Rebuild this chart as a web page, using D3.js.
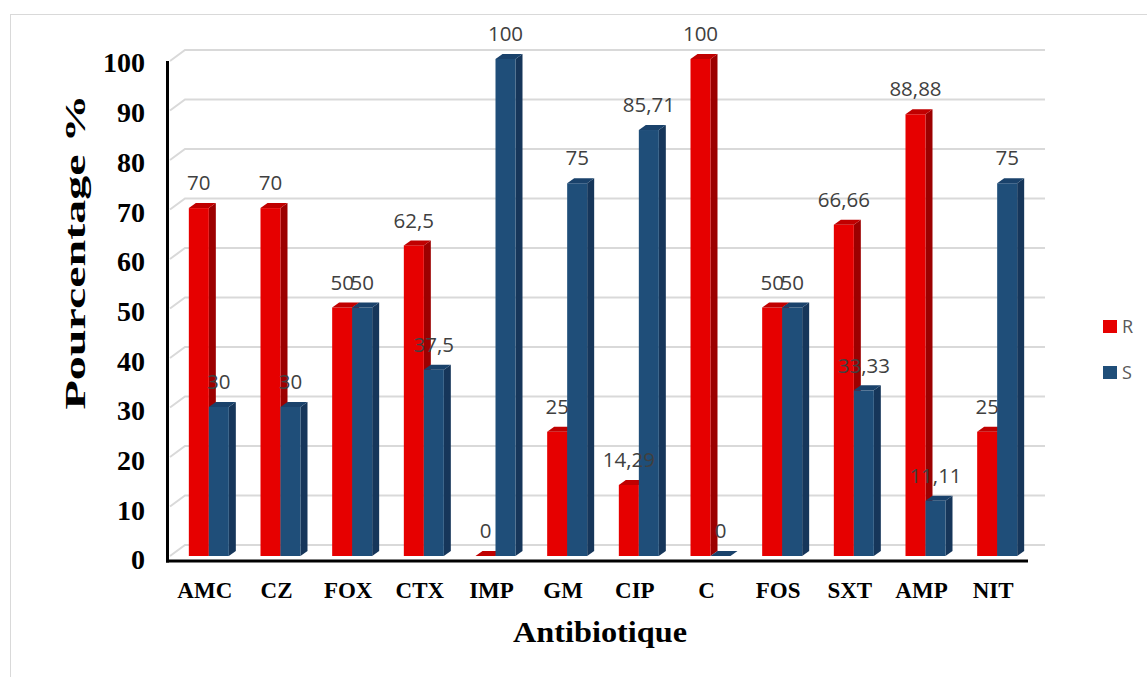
<!DOCTYPE html>
<html>
<head>
<meta charset="utf-8">
<script src="https://cdn.jsdelivr.net/npm/d3@7"></script>
<style>
  html, body { margin: 0; padding: 0; background: #fff; }
  svg { display: block; }
</style>
</head>
<body>
<svg id="chart" width="1147" height="677"></svg>
<script>
// Antibiotic resistance profile: resistant (R) vs sensitive (S) percentages
const categories = ["AMC", "CZ", "FOX", "CTX", "IMP", "GM", "CIP", "C", "FOS", "SXT", "AMP", "NIT"];
const resistant = [70, 70, 50, 62.5, 0, 25, 14.29, 100, 50, 66.66, 88.88, 25];
const sensitive = [30, 30, 50, 37.5, 100, 75, 85.71, 0, 50, 33.33, 11.11, 75];
const seriesNames = ["R", "S"];
const yTicks = [0, 10, 20, 30, 40, 50, 60, 70, 80, 90, 100];

const svg = d3.select("#chart");

// outer frame
svg.append("rect")
  .attr("x", 10.5).attr("y", 14.5)
  .attr("width", 1160).attr("height", 700)
  .attr("fill", "#fff").attr("stroke", "#d9d9d9").attr("stroke-width", 1);

const baseY = 556;
const y = d3.scaleLinear().domain([0, 100]).range([baseY, 59]);
const wallY = d3.scaleLinear().domain([0, 100]).range([545, 50]);
const x = d3.scaleBand().domain(categories).range([173, 1033]).padding(0);
const barW = 20;
const depthX = 7, depthY = -5;

// back wall gridlines with perspective floor edge
const grid = svg.append("g");
yTicks.forEach(t => {
  const yb = wallY(t);
  grid.append("path")
    .attr("d", `M170,${yb + 11}L185,${yb}L1045,${yb}`)
    .attr("fill", "none").attr("stroke", "#d9d9d9").attr("stroke-width", 2);
});

const series = [
  { name: "R", values: resistant, front: "#e60000", side: "#9c0000", top: "#c00000", offset: -barW },
  { name: "S", values: sensitive, front: "#1f4e79", side: "#16365a", top: "#1a426b", offset: 0 }
];

const bars = svg.append("g");
categories.forEach((c, i) => {
  const cx = x(c) + x.bandwidth() / 2;
  series.forEach(s => {
    const v = s.values[i];
    const x0 = cx + s.offset, x1 = x0 + barW;
    const yt = y(v), yb = y(0);
    const g = bars.append("g");
    // side face
    g.append("path")
      .attr("d", `M${x1},${yt}L${x1 + depthX},${yt + depthY}L${x1 + depthX},${yb + depthY}L${x1},${yb}Z`)
      .attr("fill", s.side);
    // front face
    g.append("rect")
      .attr("x", x0).attr("y", yt)
      .attr("width", barW).attr("height", Math.max(0, yb - yt))
      .attr("fill", s.front);
    // top face
    g.append("path")
      .attr("d", `M${x0},${yt}L${x0 + depthX},${yt + depthY}L${x1 + depthX},${yt + depthY}L${x1},${yt}Z`)
      .attr("fill", s.top);
  });
});

// value labels
const fmt = v => String(v).replace(".", ",");
const labels = svg.append("g")
  .attr("font-family", "'Open Sans', 'Noto Sans', sans-serif")
  .attr("font-size", 20.5)
  .attr("fill", "#404040")
  .attr("text-anchor", "middle");
categories.forEach((c, i) => {
  const cx = x(c) + x.bandwidth() / 2;
  series.forEach(s => {
    const v = s.values[i];
    labels.append("text")
      .attr("x", cx + s.offset + barW / 2)
      .attr("y", y(v) - 25)
      .attr("dy", "0.35em")
      .text(fmt(v));
  });
});

// axes lines
svg.append("line")
  .attr("x1", 167.5).attr("x2", 167.5).attr("y1", 61).attr("y2", 562.5)
  .attr("stroke", "#000").attr("stroke-width", 3);
svg.append("line")
  .attr("x1", 166).attr("x2", 1028).attr("y1", 561).attr("y2", 561)
  .attr("stroke", "#000").attr("stroke-width", 3);

// y tick labels
const yAxis = d3.axisLeft(y).tickValues(yTicks).tickSize(0).tickPadding(0);
const yG = svg.append("g").attr("transform", "translate(145,4)").call(yAxis);
yG.select(".domain").remove();
yG.selectAll("text")
  .attr("font-family", "'Liberation Serif', 'Times New Roman', serif")
  .attr("font-weight", "bold")
  .attr("font-size", 28)
  .attr("fill", "#000");

// x category labels
const xAxis = d3.axisBottom(x).tickSize(0).tickPadding(0);
const xG = svg.append("g").attr("transform", "translate(-4,582)").call(xAxis);
xG.select(".domain").remove();
xG.selectAll("text")
  .attr("font-family", "'Liberation Serif', 'Times New Roman', serif")
  .attr("font-weight", "bold")
  .attr("font-size", 23)
  .attr("fill", "#000");

// axis titles
svg.append("text")
  .attr("x", 600).attr("y", 642)
  .attr("text-anchor", "middle")
  .attr("font-family", "'Liberation Serif', 'Times New Roman', serif")
  .attr("font-weight", "bold")
  .attr("font-size", 30)
  .attr("textLength", 174)
  .attr("lengthAdjust", "spacingAndGlyphs")
  .text("Antibiotique");

svg.append("text")
  .attr("transform", "translate(85,252) rotate(-90)")
  .attr("text-anchor", "middle")
  .attr("font-family", "'Liberation Serif', 'Times New Roman', serif")
  .attr("font-weight", "bold")
  .attr("font-size", 30)
  .attr("textLength", 315)
  .attr("lengthAdjust", "spacingAndGlyphs")
  .text("Pourcentage %");

// legend
const legend = svg.append("g");
series.forEach((s, i) => {
  const ly = 320 + i * 46;
  legend.append("rect")
    .attr("x", 1103).attr("y", ly).attr("width", 14).attr("height", 13)
    .attr("fill", s.front);
  legend.append("text")
    .attr("x", 1122).attr("y", ly + 7).attr("dy", "0.35em")
    .attr("font-family", "'Open Sans', 'Noto Sans', sans-serif")
    .attr("font-size", 18).attr("fill", "#595959")
    .text(seriesNames[i]);
});
</script>
</body>
</html>
